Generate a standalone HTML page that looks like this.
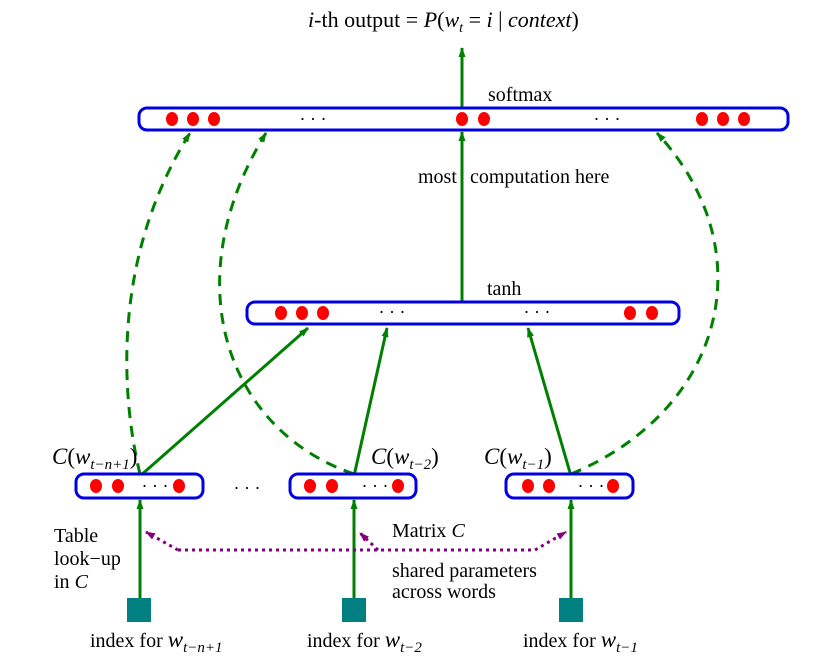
<!DOCTYPE html>
<html><head><meta charset="utf-8"><style>
html,body{margin:0;padding:0;background:#fff;}
svg{display:block;}
text{font-family:"Liberation Serif",serif;fill:#000;}
</style></head><body>
<svg width="840" height="666" viewBox="0 0 840 666" xmlns="http://www.w3.org/2000/svg">
<defs>
<marker id="ag" markerWidth="10" markerHeight="10" refX="9" refY="5" orient="auto" markerUnits="userSpaceOnUse"><path d="M0,1.5 L10,5 L0,8.5 Z" fill="#008000"/></marker>
<marker id="ap" markerWidth="10" markerHeight="10" refX="9" refY="5" orient="auto" markerUnits="userSpaceOnUse"><path d="M0,1.5 L10,5 L0,8.5 Z" fill="#800080"/></marker>
</defs>
<text x="308" y="27" font-size="22"><tspan font-style="italic">i</tspan>-th output = <tspan font-style="italic">P</tspan>(<tspan font-style="italic">w</tspan><tspan font-style="italic" font-size="14" dy="5">t</tspan><tspan dy="-5">  =  </tspan><tspan font-style="italic">i</tspan> | <tspan font-style="italic">context</tspan>)</text>

<g stroke="#008000" stroke-width="3" fill="none">
<line x1="462" y1="108" x2="462" y2="48" marker-end="url(#ag)"/>
<line x1="462" y1="302" x2="462" y2="132" marker-end="url(#ag)"/>
<line x1="140" y1="476" x2="308" y2="328" marker-end="url(#ag)"/>
<line x1="354" y1="476" x2="387" y2="328" marker-end="url(#ag)"/>
<line x1="571" y1="476" x2="528" y2="328" marker-end="url(#ag)"/>
<line x1="140" y1="598" x2="140" y2="500" marker-end="url(#ag)"/>
<line x1="354" y1="598" x2="354" y2="500" marker-end="url(#ag)"/>
<line x1="571" y1="598" x2="571" y2="500" marker-end="url(#ag)"/>
</g>
<g stroke="#008000" stroke-width="3" fill="none" stroke-dasharray="11,8">
<path d="M140,474 C122,400 110,260 190,133" marker-end="url(#ag)"/>
<path d="M354,474 C225,430 175,280 266,133" marker-end="url(#ag)"/>
<path d="M571,474 C725,410 765,250 657,133" marker-end="url(#ag)"/>
</g>
<g stroke="#800080" stroke-width="3" fill="none" stroke-dasharray="3,4">
<path d="M178,550 L535,550"/>
<path d="M178,550 L146,532" marker-end="url(#ap)"/>
<path d="M535,550 L566,532" marker-end="url(#ap)"/>
<path d="M378,550 L360,533" marker-end="url(#ap)"/>
</g>

<g stroke="#0000e0" stroke-width="3" fill="#fff">
<rect x="139" y="108" width="649" height="22" rx="8"/>
<rect x="247" y="302" width="432" height="22" rx="8"/>
<rect x="76" y="474" width="127" height="24" rx="8"/>
<rect x="290" y="474" width="126" height="24" rx="8"/>
<rect x="506" y="474" width="127" height="24" rx="8"/>
</g>
<g fill="#ff0000">
<ellipse cx="172" cy="119" rx="6" ry="7"/><ellipse cx="193" cy="119" rx="6" ry="7"/><ellipse cx="214" cy="119" rx="6" ry="7"/>
<ellipse cx="462" cy="119" rx="6" ry="7"/><ellipse cx="484" cy="119" rx="6" ry="7"/>
<ellipse cx="702" cy="119" rx="6" ry="7"/><ellipse cx="723" cy="119" rx="6" ry="7"/><ellipse cx="744" cy="119" rx="6" ry="7"/>
<ellipse cx="281" cy="313" rx="6" ry="7"/><ellipse cx="302" cy="313" rx="6" ry="7"/><ellipse cx="323" cy="313" rx="6" ry="7"/>
<ellipse cx="630" cy="313" rx="6" ry="7"/><ellipse cx="652" cy="313" rx="6" ry="7"/>
<ellipse cx="96" cy="486" rx="6" ry="7"/><ellipse cx="118" cy="486" rx="6" ry="7"/><ellipse cx="179" cy="486" rx="6" ry="7"/>
<ellipse cx="310" cy="486" rx="6" ry="7"/><ellipse cx="332" cy="486" rx="6" ry="7"/><ellipse cx="398" cy="486" rx="6" ry="7"/>
<ellipse cx="528" cy="486" rx="6" ry="7"/><ellipse cx="549" cy="486" rx="6" ry="7"/><ellipse cx="613" cy="486" rx="6" ry="7"/>
</g>
<g font-size="18" text-anchor="middle">
<text x="313" y="125">· · ·</text><text x="607" y="125">· · ·</text>
<text x="392" y="318">· · ·</text><text x="537" y="318">· · ·</text>
<text x="155" y="492">· · ·</text><text x="375" y="492">· · ·</text><text x="591" y="492">· · ·</text>
<text x="247" y="494">· · ·</text>
</g>
<g fill="#008080">
<rect x="127" y="598" width="24" height="24"/>
<rect x="342" y="598" width="24" height="24"/>
<rect x="559" y="598" width="24" height="24"/>
</g>
<g font-size="20">
<text x="488" y="101">softmax</text>
<text x="487" y="295">tanh</text>
<text x="418" y="183">most</text>
<text x="470" y="183">computation here</text>
<text x="54" y="542">Table</text>
<text x="54" y="565">look−up</text>
<text x="54" y="588">in <tspan font-style="italic">C</tspan></text>
<text x="392" y="537">Matrix <tspan font-style="italic">C</tspan></text>
<text x="392" y="577">shared parameters</text>
<text x="392" y="598">across words</text>
</g>
<g font-size="23">
<text x="52" y="464"><tspan font-style="italic">C</tspan>(<tspan font-style="italic">w</tspan><tspan font-style="italic" font-size="15" dy="5">t−n+1</tspan><tspan dy="-5">)</tspan></text>
<text x="371" y="464"><tspan font-style="italic">C</tspan>(<tspan font-style="italic">w</tspan><tspan font-style="italic" font-size="15" dy="5">t−2</tspan><tspan dy="-5">)</tspan></text>
<text x="484" y="464"><tspan font-style="italic">C</tspan>(<tspan font-style="italic">w</tspan><tspan font-style="italic" font-size="15" dy="5">t−1</tspan><tspan dy="-5">)</tspan></text>
</g>
<g font-size="20">
<text x="90" y="647">index for <tspan font-style="italic" font-size="23">w</tspan><tspan font-style="italic" font-size="15" dy="5">t−n+1</tspan></text>
<text x="307" y="647">index for <tspan font-style="italic" font-size="23">w</tspan><tspan font-style="italic" font-size="15" dy="5">t−2</tspan></text>
<text x="523" y="647">index for <tspan font-style="italic" font-size="23">w</tspan><tspan font-style="italic" font-size="15" dy="5">t−1</tspan></text>
</g>
</svg>
</body></html>
